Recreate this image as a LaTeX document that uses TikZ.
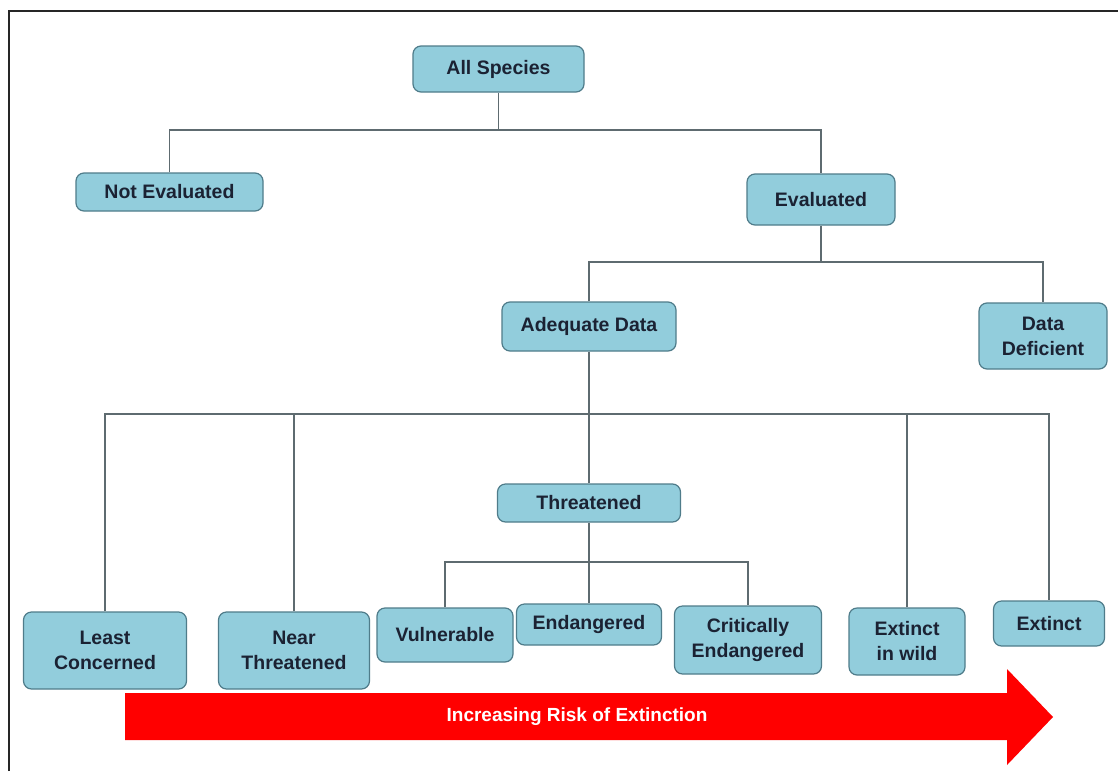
\documentclass[tikz,border=0pt]{standalone}
\usepackage{fontspec}
\setmainfont{Liberation Sans}
\definecolor{boxfill}{HTML}{92CDDC}
\definecolor{boxline}{HTML}{4F7C8A}
\definecolor{txt}{HTML}{1B2233}
\definecolor{conn}{HTML}{5E6B70}
\definecolor{arrowred}{HTML}{FF0000}
\begin{document}
\begin{tikzpicture}[x=1pt,y=-1pt,
  cat/.style={draw=boxline, line width=1.2pt, fill=boxfill, rounded corners=8pt,
    text=txt, font=\fontsize{19.5}{25}\selectfont\bfseries, align=center,
    inner sep=0pt, minimum width=#1},
  conline/.style={draw=conn, line width=1.3pt}]
\useasboundingbox (0,0) rectangle (1118,771);
\fill[white] (0,0) rectangle (1118,771);
\draw[line width=1.6pt, draw=black!85] (9,771) -- (9,11) -- (1118,11);

\node[cat=171pt, minimum height=46pt] (all) at (498.5,69) {All Species};
\node[cat=187pt, minimum height=38pt] (ne) at (169.5,192) {Not Evaluated};
\node[cat=148pt, minimum height=51pt] (ev) at (821,199.5) {Evaluated};
\node[cat=174pt, minimum height=49pt] (ad) at (589,326.5) {Adequate Data};
\node[cat=128pt, minimum height=66pt] (dd) at (1043,336) {Data\\Deficient};
\node[cat=183pt, minimum height=38pt] (th) at (589,503) {Threatened};
\node[cat=163pt, minimum height=77pt] (lc) at (105,650.5) {Least\\Concerned};
\node[cat=151pt, minimum height=77pt] (nt) at (294,650.5) {Near\\Threatened};
\node[cat=136pt, minimum height=54pt] (vu) at (445,635) {Vulnerable};
\node[cat=145pt, minimum height=41pt] (en) at (589,624.5) {Endangered};
\node[cat=147pt, minimum height=68pt] (ce) at (748,640) {Critically\\Endangered};
\node[cat=116pt, minimum height=67pt] (ew) at (907,641.5) {Extinct\\in wild};
\node[cat=111pt, minimum height=45pt] (ex) at (1049,623.5) {Extinct};

\coordinate (j1) at (498.5,130);
\coordinate (j2) at (821,262);
\coordinate (j3) at (589,414);
\coordinate (j4) at (589,562);

\draw[conline] (all.south) -- (j1);
\draw[conline] (ne.north) |- (j1) -| (ev.north);
\draw[conline] (ev.south) -- (j2);
\draw[conline] (ad.north) |- (j2) -| (dd.north);
\draw[conline] (ad.south) -- (th.north);
\draw[conline] (lc.north) |- (j3) -| (ex.north);
\draw[conline] (nt.north) -- (nt.north |- j3);
\draw[conline] (ew.north) -- (ew.north |- j3);
\draw[conline] (th.south) -- (en.north);
\draw[conline] (vu.north) |- (j4) -| (ce.north);

\fill[arrowred] (125,693) -- (1007,693) -- (1007,669) -- (1053,717) -- (1007,765) -- (1007,740) -- (125,740) -- cycle;
\node[text=white, font=\fontsize{19}{23}\selectfont\bfseries] (lbl) at (577,717) {Increasing Risk of Extinction};
\end{tikzpicture}
\end{document}
